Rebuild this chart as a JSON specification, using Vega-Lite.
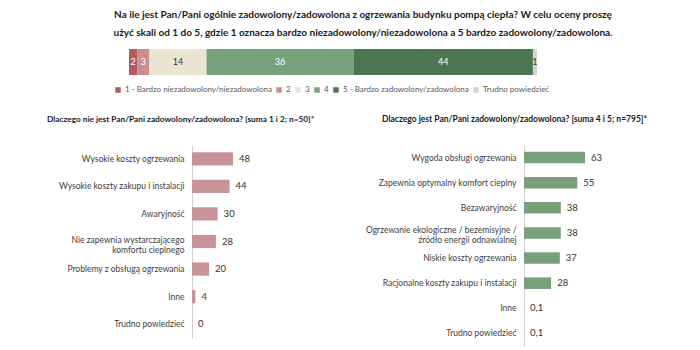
{
  "$schema": "https://vega.github.io/schema/vega-lite/v6.json",
  "padding": {"left": 47, "top": 10, "right": 5, "bottom": 5},
  "background": "white",
  "config": {
    "view": {"stroke": null},
    "font": "Lato",
    "locale": {"number": {"decimal": ",", "thousands": " ", "grouping": [3], "currency": ["", " zł"]}}
  },
  "title": {
    "text": ["Na ile jest Pan/Pani ogólnie zadowolony/zadowolona z ogrzewania budynku pompą ciepła? W celu oceny proszę", "użyć skali od 1 do 5, gdzie 1 oznacza bardzo niezadowolony/niezadowolona a 5 bardzo zadowolony/zadowolona."],
    "font": "Lato",
    "fontSize": 10,
    "fontWeight": "bold",
    "color": "#1a1a1a",
    "lineHeight": 18,
    "anchor": "middle",
    "offset": 11
  },
  "vconcat": [
    {
      "width": 400,
      "height": 26,
      "data": {"values": [
        {"q": "ogółem", "cat": "1 - Bardzo niezadowolony/niezadowolona", "value": 2, "ord": 1},
        {"q": "ogółem", "cat": "2", "value": 3, "ord": 2},
        {"q": "ogółem", "cat": "3", "value": 14, "ord": 3},
        {"q": "ogółem", "cat": "4", "value": 36, "ord": 4},
        {"q": "ogółem", "cat": "5 - Bardzo zadowolony/zadowolona", "value": 44, "ord": 5},
        {"q": "ogółem", "cat": "Trudno powiedzieć", "value": 1, "ord": 6}
      ]},
      "transform": [
        {"stack": "value", "groupby": ["q"], "sort": [{"field": "ord"}], "as": ["x0", "x1"]},
        {"calculate": "(datum.x0 + datum.x1) / 2", "as": "xm"}
      ],
      "encoding": {
        "y": {"field": "q", "type": "nominal", "axis": null, "scale": {"paddingInner": 0, "paddingOuter": 0}}
      },
      "layer": [
        {
          "mark": {"type": "bar"},
          "encoding": {
            "x": {"field": "x0", "type": "quantitative", "scale": {"domain": [0, 100], "range": [-63, 345], "nice": false, "zero": false}, "axis": null},
            "x2": {"field": "x1"},
            "color": {
              "field": "cat", "type": "nominal",
              "scale": {
                "domain": ["1 - Bardzo niezadowolony/niezadowolona", "2", "3", "4", "5 - Bardzo zadowolony/zadowolona", "Trudno powiedzieć"],
                "range": ["#b35a5f", "#c98e92", "#ebe4d3", "#77a27b", "#4e7551", "#d3d3d3"]
              },
              "legend": {
                "title": null,
                "orient": "none",
                "legendX": -78,
                "legendY": 37,
                "direction": "horizontal",
                "symbolType": "square",
                "symbolSize": 30,
                "symbolStrokeWidth": 0,
                "labelFontSize": 8,
                "labelColor": "#595959",
                "labelFont": "Lato",
                "columnPadding": 3,
                "labelOffset": 3,
                "labelLimit": 300
              }
            }
          }
        },
        {
          "mark": {"type": "text", "fontSize": 9, "font": "Lato", "baseline": "middle"},
          "encoding": {
            "x": {"field": "xm", "type": "quantitative"},
            "text": {"field": "value", "type": "quantitative"},
            "color": {
              "condition": {"test": "datum.ord == 3 || datum.ord == 6", "value": "#333333"},
              "value": "white"
            }
          }
        }
      ]
    },
    {
      "hconcat": [
        {
          "width": 120,
          "height": 193,
          "title": {
            "text": "Dlaczego nie jest Pan/Pani zadowolony/zadowolona?  [suma 1 i 2; n=50]*",
            "anchor": "start", "frame": "group", "dx": -145,
            "fontSize": 8.3, "fontWeight": "bold", "color": "#1a1a1a", "font": "Lato", "offset": 22
          },
          "data": {"values": [
            {"item": "Wysokie koszty ogrzewania", "value": 48},
            {"item": "Wysokie koszty zakupu i instalacji", "value": 44},
            {"item": "Awaryjność", "value": 30},
            {"item": "Nie zapewnia wystarczającego|komfortu cieplnego", "value": 28},
            {"item": "Problemy z obsługą ogrzewania", "value": 20},
            {"item": "Inne", "value": 4},
            {"item": "Trudno powiedzieć", "value": 0}
          ]},
          "encoding": {
            "y": {
              "field": "item", "type": "nominal", "sort": null,
              "scale": {"paddingInner": 0.52, "paddingOuter": 0.26},
              "axis": {
                "title": null, "ticks": false, "labelFontSize": 8.5, "labelColor": "#404040", "labelFont": "Lato",
                "labelPadding": 8, "labelLimit": 300, "domainColor": "#d0d0d0", "labelLineHeight": 10,
                "labelOffset": {"condition": {"test": "indexof(datum.value, '|') >= 0", "value": -2}, "value": 0},
                "labelExpr": "split(datum.value, '|')", "minExtent": 145, "maxExtent": 145
              }
            },
            "x": {"field": "value", "type": "quantitative", "scale": {"domain": [0, 140.5], "nice": false}, "axis": null}
          },
          "layer": [
            {"mark": {"type": "bar", "color": "#c99497"}},
            {"mark": {"type": "text", "align": "left", "dx": 6, "fontSize": 9.5, "color": "#333333", "font": "Lato"},
             "encoding": {"text": {"field": "value", "type": "quantitative", "format": "~f"}}}
          ]
        },
        {
          "width": 155,
          "height": 201,
          "title": {
            "text": "Dlaczego jest Pan/Pani zadowolony/zadowolona? [suma 4 i 5; n=795]*",
            "anchor": "start", "frame": "group", "dx": -142,
            "fontSize": 8.5, "fontWeight": "bold", "color": "#1a1a1a", "font": "Lato", "offset": 22
          },
          "data": {"values": [
            {"item": "Wygoda obsługi ogrzewania", "value": 63},
            {"item": "Zapewnia optymalny komfort cieplny", "value": 55},
            {"item": "Bezawaryjność", "value": 38},
            {"item": "Ogrzewanie ekologiczne / bezemisyjne /|źródło energii odnawialnej", "value": 38},
            {"item": "Niskie koszty ogrzewania", "value": 37},
            {"item": "Racjonalne koszty zakupu i instalacji", "value": 28},
            {"item": "Inne", "value": 0.1},
            {"item": "Trudno powiedzieć", "value": 0.1}
          ]},
          "encoding": {
            "y": {
              "field": "item", "type": "nominal", "sort": null,
              "scale": {"paddingInner": 0.54, "paddingOuter": 0.27},
              "axis": {
                "title": null, "ticks": false, "labelFontSize": 8.5, "labelColor": "#404040", "labelFont": "Lato",
                "labelPadding": 8, "labelLimit": 300, "domainColor": "#d0d0d0", "labelLineHeight": 10,
                "labelOffset": {"condition": {"test": "indexof(datum.value, '|') >= 0", "value": -3}, "value": 0},
                "labelExpr": "split(datum.value, '|')", "minExtent": 142, "maxExtent": 142
              }
            },
            "x": {"field": "value", "type": "quantitative", "scale": {"domain": [0, 160], "nice": false}, "axis": null}
          },
          "layer": [
            {"mark": {"type": "bar", "color": "#78a07b"}},
            {"mark": {"type": "text", "align": "left", "dx": 6, "fontSize": 9.5, "color": "#333333", "font": "Lato"},
             "encoding": {"text": {"field": "value", "type": "quantitative", "format": "~f"}}}
          ]
        }
      ],
      "spacing": 48
    }
  ],
  "spacing": 39
}
